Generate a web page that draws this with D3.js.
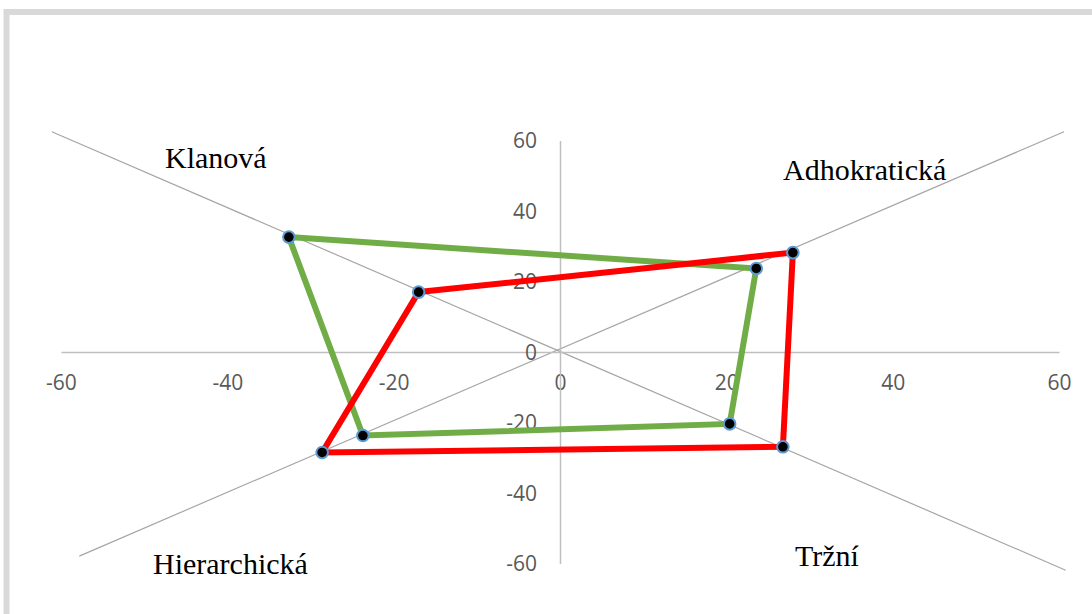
<!DOCTYPE html>
<html>
<head>
<meta charset="utf-8">
<script src="https://cdn.jsdelivr.net/npm/d3@7"></script>
<style>
  html, body { margin: 0; padding: 0; background: #fff; }
  svg { display: block; }
</style>
</head>
<body>
<svg id="chart" width="1092" height="614"></svg>
<script>
// culture profile — four quadrant types on diagonal axes
const categories = ["Klanová", "Adhokratická", "Tržní", "Hierarchická"];
const redX = [-17, 28, 26.8, -28.6];
const redY = [17, 28.2, -26.9, -28.5];
const greenX = [-32.6, 23.6, 20.4, -23.7];
const greenY = [32.6, 23.7, -20.4, -23.7];

// diagonal guide lines (two end points each)
const diagKlanX = [-61.1, 60.8];
const diagKlanY = [62.5, -61.9];
const diagHierX = [-57.8, 60.6];
const diagHierY = [-57.9, 62.5];

const xTicks = [-60, -40, -20, 0, 20, 40, 60];
const yTicks = [-60, -40, -20, 0, 20, 40, 60];

const svg = d3.select("#chart");

// gray frame around chart area
svg.append("rect")
  .attr("x", 6.5).attr("y", 12)
  .attr("width", 1200).attr("height", 700)
  .attr("fill", "none")
  .attr("stroke", "#D9D9D9")
  .attr("stroke-width", 6);

const x = d3.scaleLinear().domain([-60, 60]).range([61, 1059]);
const y = d3.scaleLinear().domain([-60, 60]).range([563.5, 140.5]);

const line = d3.line().x(d => x(d[0])).y(d => y(d[1]));

// diagonals
[[diagKlanX, diagKlanY], [diagHierX, diagHierY]].forEach(([xs, ys]) => {
  svg.append("path")
    .attr("d", line(xs.map((v, i) => [v, ys[i]])))
    .attr("fill", "none")
    .attr("stroke", "#A6A6A6")
    .attr("stroke-width", 1.2);
});

// axes through the origin, plain hyphen minus like Excel
const fmt = d => String(d);
const xAxis = d3.axisBottom(x).tickValues(xTicks).tickSize(0).tickPadding(0).tickFormat(fmt);
const yAxis = d3.axisLeft(y).tickValues(yTicks).tickSize(0).tickPadding(0).tickFormat(fmt);

const gx = svg.append("g").attr("transform", `translate(0,${y(0)})`).call(xAxis);
gx.attr("font-size", null).attr("font-family", null);
gx.select(".domain").attr("stroke", "#BFBFBF").attr("stroke-width", 1.5);
gx.selectAll("text")
  .attr("y", 31)
  .attr("dy", "0.35em")
  .attr("fill", "#595959")
  .style("font-family", "'Open Sans', sans-serif")
  .style("font-size", "21px");

const gy = svg.append("g").attr("transform", `translate(${x(0)},0)`).call(yAxis);
gy.attr("font-size", null).attr("font-family", null);
gy.select(".domain").attr("stroke", "#BFBFBF").attr("stroke-width", 1.5);
gy.selectAll("text")
  .attr("x", -23)
  .attr("dy", "0.35em")
  .attr("fill", "#595959")
  .style("font-family", "'Open Sans', sans-serif")
  .style("font-size", "21px");

// the two profiles
const series = [
  { xs: greenX, ys: greenY, color: "#70AD47" },
  { xs: redX, ys: redY, color: "#FF0000" }
];

series.forEach(s => {
  const pts = s.xs.map((v, i) => [v, s.ys[i]]);
  svg.append("path")
    .attr("d", line(pts.concat([pts[0]])))
    .attr("fill", "none")
    .attr("stroke", s.color)
    .attr("stroke-width", 6)
    .attr("stroke-linejoin", "miter");
});

series.forEach(s => {
  const pts = s.xs.map((v, i) => [v, s.ys[i]]);
  svg.selectAll(null)
    .data(pts)
    .enter()
    .append("circle")
    .attr("cx", d => x(d[0]))
    .attr("cy", d => y(d[1]))
    .attr("r", 5.8)
    .attr("fill", "#000")
    .attr("stroke", "#5B9BD5")
    .attr("stroke-width", 2);
});

// quadrant names (text boxes)
const labelAt = [
  [165, 168],
  [783, 180],
  [795, 566],
  [153, 574]
];
svg.selectAll("text.cat")
  .data(categories)
  .enter()
  .append("text")
  .attr("class", "cat")
  .attr("x", (d, i) => labelAt[i][0])
  .attr("y", (d, i) => labelAt[i][1])
  .attr("fill", "#000")
  .style("font-family", "'Liberation Serif', 'Times New Roman', serif")
  .style("font-size", "30px")
  .text(d => d);
</script>
</body>
</html>
